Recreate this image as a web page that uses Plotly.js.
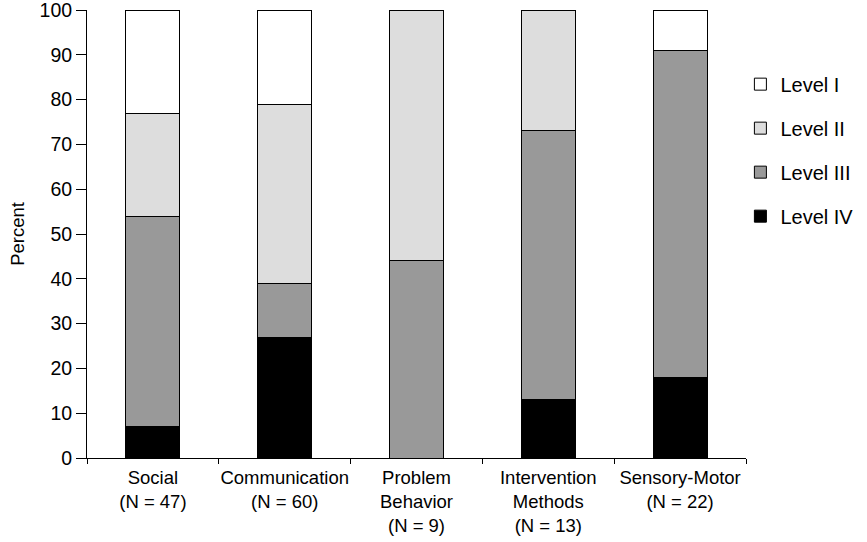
<!DOCTYPE html>
<html>
<head>
<meta charset="utf-8">
<script src="https://cdn.plot.ly/plotly-3.0.1.min.js"></script>
<style>html,body{margin:0;padding:0;background:#fff;}#chart{width:867px;height:542px;}</style>
</head>
<body>
<div id="chart"></div>
<script>
const categories = ["Social<br>(N = 47)", "Communication<br>(N = 60)", "Problem<br>Behavior<br>(N = 9)", "Intervention<br>Methods<br>(N = 13)", "Sensory-Motor<br>(N = 22)"];
const levelIV = [7, 27, 0, 13, 18];
const levelIII = [47, 12, 44, 60, 73];
const levelII = [23, 40, 56, 27, 0];
const levelI = [23, 21, 0, 0, 9];
const seriesNames = ["Level IV", "Level III", "Level II", "Level I"];
const seriesColors = ["#000000", "#999999", "#dddddd", "#ffffff"];
const seriesValues = [levelIV, levelIII, levelII, levelI];

const FONT = "Liberation Sans, Arial, sans-serif";
const traces = seriesValues.map((vals, i) => ({
  type: "bar",
  x: categories,
  y: vals,
  name: seriesNames[i],
  legendgroup: "g" + i,
  legendrank: 10 - i,
  width: 0.41,
  marker: {color: seriesColors[i], line: {color: "#000", width: 1}},
  hoverinfo: "skip"
}));

const layout = {
  width: 867, height: 542,
  margin: {l: 87, r: 120, t: 10, b: 84},
  barmode: "stack",
  paper_bgcolor: "#fff", plot_bgcolor: "#fff",
  font: {family: FONT, size: 18, color: "#000"},
  showlegend: true,
  legend: {x: 0.99, xanchor: "left", y: 0.878, yanchor: "top", traceorder: "grouped",
           tracegroupgap: 15, font: {family: FONT, size: 20}, bgcolor: "rgba(0,0,0,0)"},
  xaxis: {type: "category", showline: true, linecolor: "#000", linewidth: 1, ticks: "outside", ticklen: 5,
          tickcolor: "#000", tickson: "boundaries", showgrid: false, zeroline: false, tickangle: 0,
          automargin: false, ticklabeloverflow: "allow", ticklabelstandoff: 3,
          tickfont: {family: FONT, size: 18.5}, range: [-0.5, 4.5]},
  yaxis: {range: [0, 100], showline: true, linecolor: "#000", linewidth: 1, ticks: "outside", ticklen: 10,
          tickcolor: "#000", dtick: 10, tick0: 0, showgrid: false, zeroline: false,
          automargin: false, ticklabeloverflow: "allow",
          tickfont: {family: FONT, size: 19.5},
          title: {text: "Percent", font: {family: FONT, size: 18.5}, standoff: 10}}
};

Plotly.newPlot("chart", traces, layout, {displayModeBar: false, staticPlot: true});
</script>
</body>
</html>
